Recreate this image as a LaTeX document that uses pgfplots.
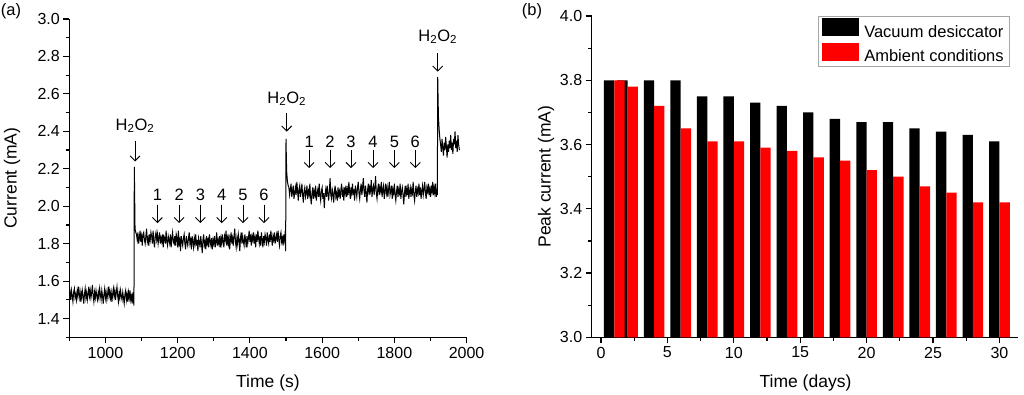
\documentclass[border=0pt]{standalone}
\usepackage{pgfplots}
\pgfplotsset{compat=1.18}
\usepackage{pgfplotstable}
\usepackage{fontspec}
\setmainfont{Liberation Sans}
\usetikzlibrary{arrows.meta}

\pgfplotstableread{
day vac amb
1 3.80 3.80
2 3.80 3.78
4 3.80 3.72
6 3.80 3.65
8 3.75 3.61
10 3.75 3.61
12 3.73 3.59
14 3.72 3.58
16 3.70 3.56
18 3.68 3.55
20 3.67 3.52
22 3.67 3.50
24 3.65 3.47
26 3.64 3.45
28 3.63 3.42
30 3.61 3.42
}\bardata

\pgfplotstableread{
t i
900 1.51
902 1.54
904 1.50
906 1.55
908 1.52
910 1.49
912 1.54
914 1.56
916 1.51
918 1.53
920 1.50
922 1.55
924 1.52
926 1.57
928 1.53
930 1.49
932 1.54
934 1.51
936 1.55
938 1.52
940 1.48
942 1.53
944 1.56
946 1.51
948 1.54
950 1.50
952 1.53
954 1.57
956 1.52
958 1.55
960 1.51
962 1.54
964 1.58
966 1.52
968 1.49
970 1.54
972 1.51
974 1.55
976 1.52
978 1.50
980 1.54
982 1.51
984 1.56
986 1.53
988 1.50
990 1.55
992 1.52
994 1.48
996 1.53
998 1.56
1000 1.51
1002 1.54
1004 1.50
1006 1.53
1008 1.57
1010 1.52
1012 1.55
1014 1.51
1016 1.54
1018 1.49
1020 1.53
1022 1.56
1024 1.52
1026 1.55
1028 1.50
1030 1.54
1032 1.57
1034 1.52
1036 1.49
1038 1.54
1040 1.51
1042 1.55
1044 1.52
1046 1.50
1048 1.54
1050 1.51
1052 1.48
1054 1.53
1056 1.55
1058 1.50
1060 1.53
1062 1.49
1064 1.54
1066 1.51
1068 1.55
1070 1.50
1072 1.52
1074 1.48
1076 1.54
1078 1.49
1079 1.47
1080 2.21
1081 2.05
1082 1.88
1084 1.86
1086 1.85
1088 1.82
1090 1.86
1092 1.80
1094 1.83
1096 1.87
1098 1.81
1100 1.84
1102 1.79
1104 1.85
1106 1.86
1108 1.82
1110 1.80
1112 1.84
1114 1.88
1116 1.81
1118 1.83
1120 1.79
1122 1.85
1124 1.82
1126 1.86
1128 1.84
1130 1.80
1132 1.87
1134 1.81
1136 1.78
1138 1.84
1140 1.86
1142 1.82
1144 1.85
1146 1.80
1148 1.83
1150 1.86
1152 1.80
1154 1.83
1156 1.81
1158 1.85
1160 1.78
1162 1.84
1164 1.83
1166 1.80
1168 1.87
1170 1.81
1172 1.79
1174 1.84
1176 1.82
1178 1.80
1180 1.85
1182 1.78
1184 1.83
1186 1.86
1188 1.81
1190 1.80
1192 1.84
1194 1.79
1196 1.85
1198 1.83
1200 1.78
1202 1.87
1204 1.80
1206 1.82
1208 1.76
1210 1.84
1212 1.81
1214 1.79
1216 1.83
1218 1.85
1220 1.80
1222 1.77
1224 1.84
1226 1.81
1228 1.79
1230 1.83
1232 1.86
1234 1.80
1236 1.82
1238 1.77
1240 1.84
1242 1.81
1244 1.78
1246 1.83
1248 1.80
1250 1.85
1252 1.79
1254 1.82
1256 1.76
1258 1.83
1260 1.81
1262 1.78
1264 1.84
1266 1.80
1268 1.75
1270 1.82
1272 1.85
1274 1.79
1276 1.81
1278 1.77
1280 1.84
1282 1.80
1284 1.82
1286 1.78
1288 1.85
1290 1.81
1292 1.79
1294 1.83
1296 1.77
1298 1.82
1300 1.80
1302 1.84
1304 1.78
1306 1.81
1308 1.86
1310 1.79
1312 1.82
1314 1.80
1316 1.84
1318 1.78
1320 1.83
1322 1.80
1324 1.85
1326 1.81
1328 1.78
1330 1.84
1332 1.82
1334 1.87
1336 1.79
1338 1.83
1340 1.80
1342 1.85
1344 1.77
1346 1.82
1348 1.86
1350 1.80
1352 1.83
1354 1.79
1356 1.84
1358 1.88
1360 1.81
1362 1.78
1364 1.83
1366 1.80
1368 1.85
1370 1.82
1372 1.76
1374 1.83
1376 1.86
1378 1.80
1380 1.84
1382 1.81
1384 1.79
1386 1.85
1388 1.82
1390 1.78
1392 1.84
1394 1.80
1396 1.83
1398 1.87
1400 1.81
1402 1.85
1404 1.79
1406 1.84
1408 1.82
1410 1.86
1412 1.80
1414 1.83
1416 1.78
1418 1.85
1420 1.81
1422 1.87
1424 1.83
1426 1.80
1428 1.84
1430 1.79
1432 1.86
1434 1.82
1436 1.78
1438 1.84
1440 1.81
1442 1.85
1444 1.83
1446 1.79
1448 1.86
1450 1.82
1452 1.80
1454 1.85
1456 1.81
1458 1.87
1460 1.83
1462 1.79
1464 1.84
1466 1.82
1468 1.86
1470 1.80
1472 1.83
1474 1.85
1476 1.81
1478 1.87
1480 1.82
1482 1.79
1484 1.84
1486 1.86
1488 1.81
1490 1.83
1492 1.79
1494 1.85
1496 1.82
1498 1.87
1499 1.76
1500 2.36
1501 2.25
1502 2.18
1504 2.13
1506 2.11
1508 2.10
1510 2.06
1512 2.09
1514 2.12
1516 2.05
1518 2.08
1520 2.11
1522 2.04
1524 2.07
1526 2.10
1528 2.06
1530 2.13
1532 2.08
1534 2.03
1536 2.09
1538 2.11
1540 2.05
1542 2.08
1544 2.12
1546 2.06
1548 2.02
1550 2.08
1552 2.10
1554 2.05
1556 2.07
1558 2.11
1560 2.04
1562 2.08
1564 2.06
1566 2.12
1568 2.05
1570 2.01
1572 2.07
1574 2.10
1576 2.04
1578 2.08
1580 2.06
1582 2.11
1584 2.03
1586 2.07
1588 2.09
1590 2.05
1592 2.12
1594 2.06
1596 2.03
1598 2.08
1600 2.10
1602 2.04
1604 2.07
1606 1.99
1608 2.06
1610 2.09
1612 2.05
1614 2.11
1616 2.07
1618 2.03
1620 2.08
1622 2.15
1624 2.06
1626 2.04
1628 2.09
1630 2.07
1632 2.02
1634 2.08
1636 2.11
1638 2.05
1640 2.07
1642 2.03
1644 2.10
1646 2.06
1648 2.08
1650 2.04
1652 2.09
1654 2.12
1656 2.05
1658 2.08
1660 2.03
1662 2.10
1664 2.07
1666 2.11
1668 2.05
1670 2.09
1672 2.06
1674 2.13
1676 2.08
1678 2.04
1680 2.10
1682 2.07
1684 2.12
1686 2.06
1688 2.09
1690 2.03
1692 2.11
1694 2.08
1696 2.05
1698 2.10
1700 2.13
1702 2.07
1704 2.04
1706 2.09
1708 2.12
1710 2.06
1712 2.10
1714 2.15
1716 2.08
1718 2.05
1720 2.11
1722 2.07
1724 2.02
1726 2.09
1728 2.12
1730 2.06
1732 2.10
1734 2.08
1736 2.14
1738 2.05
1740 2.09
1742 2.11
1744 2.06
1746 2.10
1748 2.16
1750 2.07
1752 2.04
1754 2.09
1756 2.12
1758 2.06
1760 2.10
1762 2.08
1764 2.13
1766 2.05
1768 2.09
1770 2.11
1772 2.04
1774 2.08
1776 2.12
1778 2.07
1780 2.10
1782 2.05
1784 2.09
1786 2.13
1788 2.06
1790 2.08
1792 2.11
1794 2.04
1796 2.09
1798 2.07
1800 2.12
1802 2.06
1804 2.03
1806 2.08
1808 2.11
1810 2.05
1812 2.09
1814 2.07
1816 2.12
1818 2.04
1820 2.08
1822 2.10
1824 2.06
1826 2.01
1828 2.07
1830 2.11
1832 2.05
1834 2.09
1836 2.06
1838 2.12
1840 2.04
1842 2.08
1844 2.10
1846 2.05
1848 2.09
1850 2.07
1852 2.13
1854 2.06
1856 2.03
1858 2.08
1860 2.11
1862 2.05
1864 2.09
1866 2.07
1868 2.12
1870 2.06
1872 2.10
1874 2.04
1876 2.08
1878 2.11
1880 2.06
1882 2.09
1884 2.13
1886 2.07
1888 2.04
1890 2.10
1892 2.08
1894 2.12
1896 2.06
1898 2.09
1900 2.05
1902 2.11
1904 2.08
1906 2.13
1908 2.06
1910 2.10
1912 2.07
1914 2.12
1916 2.05
1918 2.09
1919 2.06
1920 2.69
1921 2.58
1922 2.48
1924 2.41
1926 2.36
1928 2.33
1930 2.29
1932 2.36
1934 2.31
1936 2.27
1938 2.34
1940 2.30
1942 2.37
1944 2.32
1946 2.26
1948 2.33
1950 2.29
1952 2.35
1954 2.31
1956 2.38
1958 2.30
1960 2.34
1962 2.28
1964 2.36
1966 2.33
1968 2.40
1970 2.31
1972 2.35
1974 2.29
1976 2.38
1978 2.33
1980 2.30
}\tracedata

\pgfplotsset{
  mystyle/.style={
    scale only axis,
    axis lines*=left,
    axis line style={line width=1.2pt},
    tick align=outside,
    major tick length=6pt,
    minor tick length=3.5pt,
    every tick/.style={black, line width=1.2pt},
    every minor tick/.style={black, line width=1.2pt},
    font=\fontsize{16}{19}\selectfont,
    tick label style={font=\fontsize{16}{19}\selectfont},
    label style={font=\fontsize{17.5}{21}\selectfont},
    /pgf/number format/assume math mode=true,
  },
}
\tikzset{arr/.style={line width=0.9pt, -{Straight Barb[length=5pt,width=10pt]}}}

\begin{document}
\begin{tikzpicture}
\path[use as bounding box] (0,0) rectangle (1024pt,395pt);
\node[font=\fontsize{16.5}{19}\selectfont] at (11pt,383.5pt) {(a)};
\node[font=\fontsize{16.5}{19}\selectfont] at (532pt,383.5pt) {(b)};

\begin{axis}[mystyle,
  at={(69.3pt,57.7pt)}, anchor=south west,
  width=397.3pt, height=318.3pt,
  xmin=900, xmax=2000, ymin=1.3, ymax=3.0,
  xtick={1000,1200,1400,1600,1800,2000},
  minor xtick={900,1100,1300,1500,1700,1900},
  ytick={1.4,1.6,1.8,2.0,2.2,2.4,2.6,2.8,3.0},
  minor ytick={1.3,1.5,1.7,1.9,2.1,2.3,2.5,2.7,2.9},
  xticklabel style={/pgf/number format/1000 sep={}},
  yticklabel style={/pgf/number format/.cd,fixed,fixed zerofill,precision=1},
  xlabel={Time (s)}, ylabel={Current (mA)},
  xlabel style={at={(axis description cs:0.5,-0.1445)}, anchor=center},
  ylabel style={at={(axis description cs:-0.144,0.5)}, anchor=center},
]
\addplot[black, line width=1.0pt] table[x=t,y=i] {\tracedata};

\node[font=\fontsize{16.5}{19}\selectfont] at (axis cs:1082,2.43) {H\textsubscript{2}O\textsubscript{2}};
\draw[arr] (axis cs:1082,2.346) -- (axis cs:1082,2.239);
\node[font=\fontsize{16.5}{19}\selectfont] at (axis cs:1502,2.575) {H\textsubscript{2}O\textsubscript{2}};
\draw[arr] (axis cs:1502,2.499) -- (axis cs:1502,2.399);
\node[font=\fontsize{16.5}{19}\selectfont] at (axis cs:1920,2.905) {H\textsubscript{2}O\textsubscript{2}};
\draw[arr] (axis cs:1920,2.817) -- (axis cs:1920,2.719);

\foreach \xx/\lab in {1144/1,1204/2,1263/3,1322/4,1381/5,1439/6} {
  \edef\temp{\noexpand\node[font=\noexpand\fontsize{16.5}{19}\noexpand\selectfont] at (axis cs:\xx,2.061) {\lab};
  \noexpand\draw[arr] (axis cs:\xx,2.008) -- (axis cs:\xx,1.910);}
  \temp
}
\foreach \xx/\lab in {1564/1,1622/2,1680/3,1741/4,1800/5,1858/6} {
  \edef\temp{\noexpand\node[font=\noexpand\fontsize{16.5}{19}\noexpand\selectfont] at (axis cs:\xx,2.346) {\lab};
  \noexpand\draw[arr] (axis cs:\xx,2.301) -- (axis cs:\xx,2.204);}
  \temp
}
\end{axis}

\begin{axis}[mystyle,
  at={(591.7pt,57.7pt)}, anchor=south west,
  width=426.3pt, height=321.3pt,
  xmin=-0.7, xmax=31.4, ymin=3.0, ymax=4.0,
  xtick={0,5,10,15,20,25,30},
  minor xtick={2.5,7.5,12.5,17.5,22.5,27.5},
  ytick={3.0,3.2,3.4,3.6,3.8,4.0},
  minor ytick={3.1,3.3,3.5,3.7,3.9},
  yticklabel style={/pgf/number format/.cd,fixed,fixed zerofill,precision=1},
  xlabel={Time (days)}, ylabel={Peak current (mA)},
  xlabel style={at={(axis description cs:0.5015,-0.1435)}, anchor=center},
  ylabel style={at={(axis description cs:-0.107,0.5)}, anchor=center},
  legend style={at={(axis description cs:0.531,1)}, anchor=north west,
    draw=gray!70, line width=0.8pt, font=\fontsize{16.5}{19}\selectfont,
    inner xsep=4pt, inner ysep=2pt, row sep=2pt,
    /tikz/every odd column/.append style={column sep=3pt}},
  legend cell align=left,
]
\addplot[ybar, bar width=0.78, bar shift=-0.39, fill=black, draw=none, forget plot] table[x=day,y=vac] {\bardata};
\addplot[ybar, bar width=0.78, bar shift=0.39, fill=red, draw=none, forget plot] table[x=day,y=amb] {\bardata};
\addlegendimage{legend image code/.code={\fill[black] (0pt,-4pt) rectangle (36pt,13pt);}}
\addlegendentry{Vacuum desiccator}
\addlegendimage{legend image code/.code={\fill[red] (0pt,-4pt) rectangle (36pt,13pt);}}
\addlegendentry{Ambient conditions}
\end{axis}
\end{tikzpicture}
\end{document}
